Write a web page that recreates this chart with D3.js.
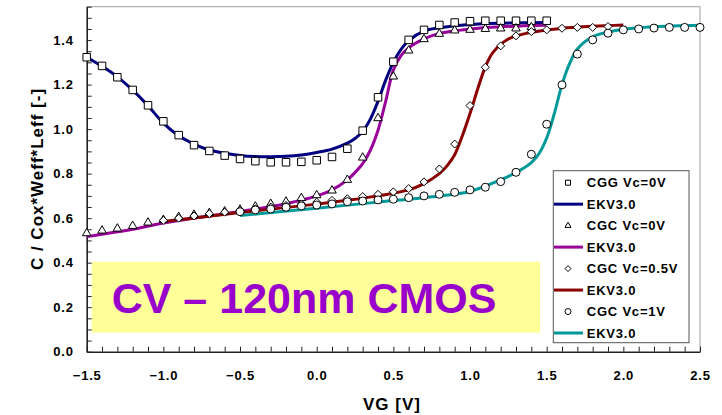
<!DOCTYPE html>
<html>
<head>
<meta charset="utf-8">
<script src="https://cdn.jsdelivr.net/npm/d3@7"></script>
<style>
  body { margin: 0; background: #fff; }
  svg { display: block; font-family: "Liberation Sans", Arial, sans-serif; }
  .axis path, .axis line { stroke: #222; }
  .axis text { font-size: 13px; font-weight: bold; fill: #000; letter-spacing: 0.8px; }
</style>
</head>
<body>
<div id="chart"></div>
<script>
// measured CGG, Vc = 0V (squares)
var cggX = [-1.5,-1.4,-1.3,-1.2,-1.1,-1.0,-0.9,-0.8,-0.7,-0.6,-0.5,-0.4,-0.3,-0.2,-0.1,0.0,0.1,0.2,0.3,0.4,0.5,0.6,0.7,0.8,0.9,1.0,1.1,1.2,1.3,1.4,1.5];
var cggY = [1.323,1.284,1.233,1.176,1.107,1.035,0.973,0.928,0.902,0.881,0.866,0.856,0.851,0.851,0.853,0.860,0.875,0.912,0.993,1.143,1.303,1.401,1.446,1.468,1.479,1.485,1.487,1.487,1.487,1.487,1.487];

// measured CGC, Vc = 0V (triangles)
var cgc0X = [-1.5,-1.4,-1.3,-1.2,-1.1,-1.0,-0.9,-0.8,-0.7,-0.6,-0.5,-0.4,-0.3,-0.2,-0.1,0.0,0.1,0.2,0.3,0.4,0.5,0.6,0.7,0.8,0.9,1.0,1.1,1.2,1.3,1.4];
var cgc0Y = [0.532,0.544,0.553,0.565,0.580,0.592,0.605,0.615,0.623,0.630,0.638,0.652,0.664,0.674,0.690,0.703,0.724,0.772,0.872,1.049,1.236,1.353,1.404,1.428,1.443,1.446,1.450,1.452,1.452,1.458];

// measured CGC, Vc = 0.5V (diamonds)
var cgc05X = [-1.0,-0.9,-0.8,-0.7,-0.6,-0.5,-0.4,-0.3,-0.2,-0.1,0.0,0.1,0.2,0.3,0.4,0.5,0.6,0.7,0.8,0.9,1.0,1.1,1.2,1.3,1.4,1.5,1.6,1.7,1.8,1.9];
var cgc05Y = [0.590,0.600,0.610,0.620,0.627,0.634,0.642,0.650,0.657,0.664,0.672,0.680,0.687,0.697,0.707,0.718,0.733,0.763,0.821,0.933,1.106,1.278,1.374,1.419,1.438,1.446,1.453,1.457,1.457,1.461];

// measured CGC, Vc = 1V (circles)
var cgc1X = [-0.5,-0.4,-0.3,-0.2,-0.1,0.0,0.1,0.2,0.3,0.4,0.5,0.6,0.7,0.8,0.9,1.0,1.1,1.2,1.3,1.4,1.5,1.6,1.7,1.8,1.9,2.0,2.1,2.2,2.3,2.4,2.5];
var cgc1Y = [0.629,0.637,0.641,0.649,0.655,0.659,0.664,0.674,0.677,0.682,0.685,0.692,0.700,0.707,0.716,0.727,0.739,0.764,0.806,0.887,1.022,1.199,1.337,1.401,1.431,1.446,1.450,1.454,1.457,1.457,1.457];

// EKV3.0 model curves
var ekvCggX = [-1.5,-1.4,-1.3,-1.2,-1.1,-1.0,-0.9,-0.8,-0.7,-0.6,-0.5,-0.4,-0.3,-0.2,-0.1,0.0,0.1,0.2,0.25,0.3,0.35,0.4,0.45,0.5,0.55,0.6,0.7,0.8,1.0,1.2,1.5];
var ekvCggY = [1.323,1.282,1.235,1.175,1.105,1.027,0.970,0.933,0.906,0.892,0.882,0.877,0.876,0.878,0.884,0.895,0.910,0.937,0.958,0.990,1.045,1.125,1.220,1.300,1.358,1.398,1.440,1.455,1.470,1.476,1.479];

var ekvCgc0X = [-1.5,-1.2,-1.0,-0.8,-0.5,-0.2,0.0,0.1,0.2,0.25,0.3,0.35,0.4,0.45,0.5,0.55,0.6,0.7,0.8,1.0,1.2,1.5];
var ekvCgc0Y = [0.517,0.550,0.578,0.600,0.630,0.665,0.700,0.727,0.772,0.805,0.845,0.905,0.995,1.125,1.265,1.330,1.365,1.405,1.430,1.450,1.460,1.467];

var ekvCgc05X = [-1.0,-0.5,0.0,0.2,0.4,0.6,0.7,0.8,0.85,0.9,0.95,1.0,1.05,1.1,1.15,1.25,1.4,1.6,1.8,2.0];
var ekvCgc05Y = [0.585,0.625,0.663,0.680,0.700,0.727,0.755,0.800,0.835,0.885,0.970,1.070,1.180,1.280,1.345,1.405,1.435,1.453,1.462,1.468];

var ekvCgc1X = [-0.5,0.0,0.4,0.8,1.0,1.2,1.3,1.4,1.45,1.5,1.55,1.6,1.65,1.7,1.8,1.95,2.2,2.5];
var ekvCgc1Y = [0.612,0.645,0.672,0.700,0.720,0.772,0.805,0.850,0.890,0.960,1.070,1.200,1.295,1.360,1.415,1.443,1.460,1.467];

var legendLabels = ["CGG Vc=0V","EKV3.0","CGC Vc=0V","EKV3.0","CGC Vc=0.5V","EKV3.0","CGC Vc=1V","EKV3.0"];
var xTickLabels = [-1.5,-1.0,-0.5,0.0,0.5,1.0,1.5,2.0,2.5];
var yTickLabels = [0.0,0.2,0.4,0.6,0.8,1.0,1.2,1.4];
var titleText = "CV \u2013 120nm CMOS";

var width = 722, height = 415;
var svg = d3.select("#chart").append("svg")
  .attr("width", width).attr("height", height);

var x = d3.scaleLinear().domain([-1.5, 2.5]).range([86.7, 700]);
var y = d3.scaleLinear().domain([0, 1.55]).range([351.7, 6.7]);

function zip(xs, ys) { return xs.map(function(v, i) { return [v, ys[i]]; }); }

// yellow title box
svg.append("rect")
  .attr("x", 91.7).attr("y", 261.7).attr("width", 448.3).attr("height", 71)
  .attr("fill", "#ffff99");
svg.append("text")
  .attr("x", 111.7).attr("y", 312.7)
  .attr("font-size", 43).attr("font-weight", "bold")
  .attr("fill", "#9900cc")
  .text(titleText);

// frame (top / right)
svg.append("path")
  .attr("d", "M" + x(-1.5) + "," + y(1.55) + "H" + x(2.5) + "V" + y(0))
  .attr("fill", "none").attr("stroke", "#a0a0a0").attr("stroke-width", 1);

// axes, ticks pointing inward
var yTicks = d3.range(0, 32).map(function(i) { return i * 0.05; });
var xTicks = d3.range(0, 41).map(function(i) { return -1.5 + i * 0.1; });

var yAxis = d3.axisLeft(y).tickValues(yTicks).tickSizeInner(-5).tickSizeOuter(0).tickPadding(13)
  .tickFormat(function(d) {
    var hit = yTickLabels.some(function(v) { return Math.abs(v - d) < 1e-6; });
    return hit ? d3.format(".1f")(d) : "";
  });
svg.append("g").attr("class", "axis")
  .attr("transform", "translate(" + x(-1.5) + ",0)")
  .call(yAxis)
  .call(function(g) { g.select(".domain").attr("stroke-width", 1.6); });

var xAxis = d3.axisBottom(x).tickValues(xTicks).tickSizeInner(-5).tickSizeOuter(0).tickPadding(19)
  .tickFormat(function(d) {
    var hit = xTickLabels.some(function(v) { return Math.abs(v - d) < 1e-6; });
    return hit ? d3.format(".1f")(Math.abs(d) < 1e-9 ? 0 : d) : "";
  });
svg.append("g").attr("class", "axis")
  .attr("transform", "translate(0," + y(0) + ")")
  .call(xAxis)
  .call(function(g) { g.select(".domain").attr("stroke-width", 1.6); });

// axis titles
svg.append("text")
  .attr("x", 392).attr("y", 410)
  .attr("text-anchor", "middle")
  .attr("font-size", 17).attr("font-weight", "bold").attr("letter-spacing", "1px")
  .attr("fill", "#000")
  .text("VG [V]");
svg.append("text")
  .attr("transform", "translate(43,179) rotate(-90)")
  .attr("text-anchor", "middle")
  .attr("font-size", 17).attr("font-weight", "bold").attr("letter-spacing", "1px")
  .attr("fill", "#000")
  .text("C / Cox*Weff*Leff [-]");

// model lines
var line = d3.line()
  .x(function(d) { return x(d[0]); })
  .y(function(d) { return y(d[1]); })
  .curve(d3.curveCatmullRom.alpha(0.5));

var models = [
  { pts: zip(ekvCggX, ekvCggY), color: "#000080" },
  { pts: zip(ekvCgc0X, ekvCgc0Y), color: "#990099" },
  { pts: zip(ekvCgc05X, ekvCgc05Y), color: "#8b0000" },
  { pts: zip(ekvCgc1X, ekvCgc1Y), color: "#009999" }
];

svg.append("g").selectAll("path").data(models).enter().append("path")
  .attr("d", function(d) { return line(d.pts); })
  .attr("fill", "none")
  .attr("stroke", function(d) { return d.color; })
  .attr("stroke-width", 3);

// marker shapes
function markerPath(kind, s) {
  if (kind == "square") return d3.symbol().type(d3.symbolSquare).size(s * s)();
  if (kind == "circle") return d3.symbol().type(d3.symbolCircle).size(Math.PI * s * s / 4)();
  if (kind == "triangle") {
    var h = s * 0.87;
    return "M0," + (-h * 2 / 3) + "L" + (s / 2) + "," + (h / 3) + "L" + (-s / 2) + "," + (h / 3) + "Z";
  }
  var r = s / 2;
  return "M0," + (-r) + "L" + r + ",0L0," + r + "L" + (-r) + ",0Z";
}

var measured = [
  { pts: zip(cggX, cggY), kind: "square", size: 7.5 },
  { pts: zip(cgc0X, cgc0Y), kind: "triangle", size: 8.5 },
  { pts: zip(cgc05X, cgc05Y), kind: "diamond", size: 8 },
  { pts: zip(cgc1X, cgc1Y), kind: "circle", size: 8 }
];

measured.forEach(function(m) {
  svg.append("g").selectAll("path").data(m.pts).enter().append("path")
    .attr("transform", function(d) { return "translate(" + x(d[0]) + "," + y(d[1]) + ")"; })
    .attr("d", markerPath(m.kind, m.size))
    .attr("fill", "#fff")
    .attr("stroke", "#000")
    .attr("stroke-width", 1);
});

// legend
var legend = svg.append("g");
legend.append("rect")
  .attr("x", 553.3).attr("y", 170.7).attr("width", 135.7).attr("height", 172)
  .attr("fill", "#fff").attr("stroke", "#555").attr("stroke-width", 1);

var legendKinds = ["square", null, "triangle", null, "diamond", null, "circle", null];
var legendColors = [null, "#000080", null, "#990099", null, "#8b0000", null, "#009999"];
var rowY = d3.scaleLinear().domain([0, 7]).range([182.7, 333]);

legendLabels.forEach(function(lab, i) {
  var cy = rowY(i);
  if (legendKinds[i]) {
    legend.append("path")
      .attr("transform", "translate(568," + cy + ")")
      .attr("d", markerPath(legendKinds[i], legendKinds[i] == "square" ? 5 : 6))
      .attr("fill", "#fff").attr("stroke", "#000").attr("stroke-width", 1);
  } else {
    legend.append("line")
      .attr("x1", 554).attr("x2", 583).attr("y1", cy).attr("y2", cy)
      .attr("stroke", legendColors[i]).attr("stroke-width", 3);
  }
  legend.append("text")
    .attr("x", 586.7).attr("y", cy + 4.7)
    .attr("font-size", 13).attr("font-weight", "bold").attr("letter-spacing", "0.8px")
    .attr("fill", "#000")
    .text(lab);
});
</script>
</body>
</html>
